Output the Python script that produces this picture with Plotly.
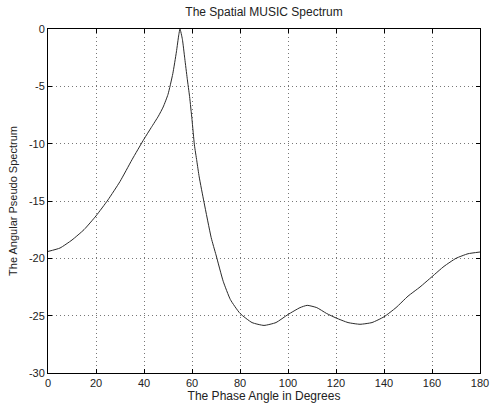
import plotly.graph_objects as go

angles = [0, 5, 10, 15, 20, 25, 30, 35, 40, 43, 46, 48, 50, 52, 53.5, 54.5, 55,
          56, 57, 58, 59, 60, 61, 62, 63, 65, 68, 70, 73, 76, 80, 85, 90, 95, 100, 105,
          108, 112, 116, 120, 125, 130, 135, 140, 145, 150, 155, 160, 165, 170,
          175, 180]
spectrum = [-19.4, -19.1, -18.4, -17.5, -16.3, -14.9, -13.3, -11.4, -9.6, -8.6,
            -7.6, -6.8, -5.7, -3.9, -2.0, -0.5, 0.0,
            -0.9, -2.6, -4.3, -5.9, -7.9, -10.1, -11.5, -12.9, -15.1, -18.2,
            -19.7, -22.0, -23.6, -24.8, -25.6, -25.85, -25.6, -24.9, -24.3,
            -24.1, -24.3, -24.8, -25.2, -25.6, -25.75, -25.6, -25.1, -24.3,
            -23.3, -22.5, -21.6, -20.7, -20.0, -19.6, -19.45]

x_ticks = [0, 20, 40, 60, 80, 100, 120, 140, 160, 180]
y_ticks = [0, -5, -10, -15, -20, -25, -30]
y_tick_text = ["0", "-5", "-10", "-15", "-20", "-25", "-30"]

title = "The Spatial MUSIC Spectrum"
x_title = "The Phase Angle in Degrees"
y_title = "The Angular Pseudo Spectrum"

FONT = "Liberation Sans, Arial"

fig = go.Figure()
fig.add_trace(go.Scatter(
    x=angles, y=spectrum, mode="lines",
    line=dict(color="#2a2a2a", width=1, shape="spline", smoothing=0.5),
    showlegend=False, hoverinfo="skip",
))

axis_common = dict(
    showgrid=True, gridcolor="#777777", griddash="1px,3px", gridwidth=1,
    showline=True, linecolor="black", linewidth=1, mirror="ticks",
    ticks="inside", ticklen=4, tickcolor="black",
    zeroline=False, automargin=False,
    tickfont=dict(family=FONT, size=11, color="#222222"),
)

fig.update_layout(
    width=490, height=408,
    paper_bgcolor="white", plot_bgcolor="white",
    margin=dict(l=48, r=10, t=29, b=35),
    title=dict(text=title, xref="paper", x=0.5, xanchor="center",
               yref="container", y=1 - 12 / 408, yanchor="middle",
               pad=dict(t=0, b=0, l=0, r=0),
               font=dict(family=FONT, size=12, color="#222222")),
    xaxis=dict(range=[0, 180], tickvals=x_ticks,
               title=dict(text=x_title, standoff=0,
                          font=dict(family=FONT, size=12, color="#222222")),
               **axis_common),
    yaxis=dict(range=[-30, 0], tickvals=y_ticks, ticktext=y_tick_text,
               title=dict(text=y_title, standoff=9,
                          font=dict(family=FONT, size=11, color="#222222")),
               **axis_common),
)

fig.write_html("out.html",
               config={"displayModeBar": False},
               post_script="document.body.style.margin='0';document.body.style.overflow='hidden';")
